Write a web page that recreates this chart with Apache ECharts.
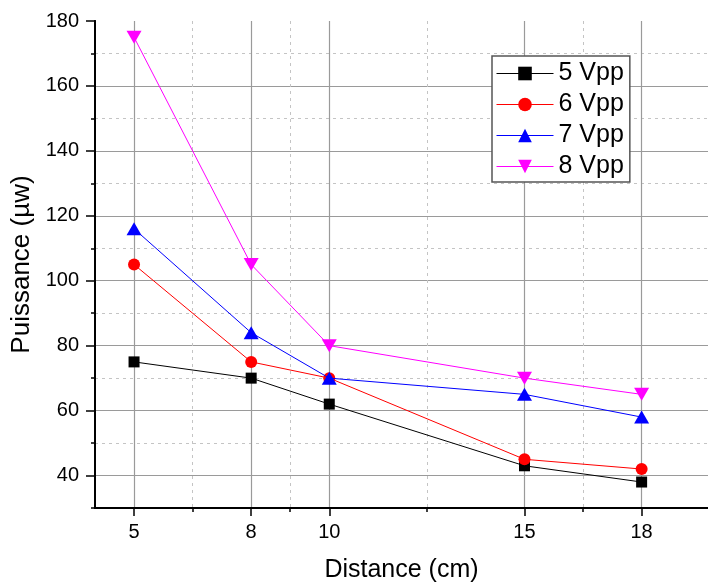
<!DOCTYPE html>
<html>
<head>
<meta charset="utf-8">
<script src="https://cdn.jsdelivr.net/npm/echarts@6/dist/echarts.min.js"></script>
<style>
html,body{margin:0;padding:0;background:#fff;}
#chart{width:708px;height:588px;}
</style>
</head>
<body>
<div id="chart"></div>
<script>
const distances = [5, 8, 10, 15, 18];
const seriesNames = ['5 Vpp', '6 Vpp', '7 Vpp', '8 Vpp'];
const vpp5 = [75, 70, 62, 43, 38];
const vpp6 = [105, 75, 70, 45, 42];
const vpp7 = [116, 84, 70, 65, 58];
const vpp8 = [175, 105, 80, 70, 65];
const xMajorTicks = [5, 8, 10, 15, 18];
const xMinorTicks = [6.5, 9, 12.5, 16.5];
const yMajorTicks = [40, 60, 80, 100, 120, 140, 160, 180];
const yMinorTicks = [30, 50, 70, 90, 110, 130, 150, 170];
const xTitle = 'Distance (cm)';
const yTitle = 'Puissance (µw)';

const FONT = '"Liberation Sans", Arial, sans-serif';
const seriesValues = [vpp5, vpp6, vpp7, vpp8];
const colors = ['#000000', '#ff0000', '#0000ff', '#ff00ff'];
const symbols = ['rect', 'circle', 'triangle', 'triangle'];
const symbolSizes = [11, 12, [15, 13], [15, 13]];
const rotations = [0, 0, 0, 180];

const chart = echarts.init(document.getElementById('chart'), null, {renderer: 'canvas'});

const X_MIN = 4, X_MAX = 19.7, Y_MIN = 30, Y_MAX = 180;

function baseAxisLine() {
  return {show: true, onZero: false, lineStyle: {color: '#000', width: 2}};
}

const option = {
  backgroundColor: '#fff',
  animation: false,
  textStyle: {fontFamily: FONT},
  grid: {left: 95, right: 0, top: 21, bottom: 79, containLabel: false},
  legend: {
    orient: 'vertical',
    left: 492,
    top: 56,
    data: seriesNames.map((n, i) => ({
      name: n,
      lineStyle: {color: colors[i], width: 1},
      itemStyle: {color: colors[i]}
    })),
    itemWidth: 57,
    itemHeight: 17,
    itemGap: 6,
    padding: [5, 6, 3, 4],
    borderColor: '#555',
    borderWidth: 1.5,
    backgroundColor: '#fff',
    textStyle: {fontFamily: FONT, fontSize: 25, color: '#000', lineHeight: 25}
  },
  xAxis: [
    {
      type: 'value', min: X_MIN, max: X_MAX,
      axisLine: baseAxisLine(),
      axisTick: {show: true, customValues: xMinorTicks, length: 4, lineStyle: {color: '#000', width: 1.5}},
      axisLabel: {show: false, customValues: xMinorTicks},
      splitLine: {show: true, showMinLine: true, showMaxLine: true, lineStyle: {color: '#c4c4c4', width: 1, type: [3, 4]}}
    },
    {
      type: 'value', min: X_MIN, max: X_MAX, position: 'bottom',
      name: xTitle, nameLocation: 'middle', nameGap: 50,
      nameTextStyle: {fontFamily: FONT, fontSize: 25, color: '#000'},
      axisLine: baseAxisLine(),
      axisTick: {show: true, customValues: xMajorTicks, length: 8, lineStyle: {color: '#000', width: 1.5}},
      axisLabel: {show: true, customValues: xMajorTicks, margin: 14, fontFamily: FONT, fontSize: 20, color: '#000'},
      splitLine: {show: true, showMinLine: true, showMaxLine: true, lineStyle: {color: '#9a9a9a', width: 1.2}}
    }
  ],
  yAxis: [
    {
      type: 'value', min: Y_MIN, max: Y_MAX, position: 'left',
      axisLine: baseAxisLine(),
      axisTick: {show: true, customValues: yMinorTicks, length: 4, lineStyle: {color: '#000', width: 1.5}},
      axisLabel: {show: false, customValues: yMinorTicks},
      splitLine: {show: true, showMinLine: false, showMaxLine: true, lineStyle: {color: '#c4c4c4', width: 1, type: [3, 4]}}
    },
    {
      type: 'value', min: Y_MIN, max: Y_MAX, position: 'left',
      name: yTitle, nameLocation: 'middle', nameGap: 58, nameRotate: 90,
      nameTextStyle: {fontFamily: FONT, fontSize: 26, color: '#000'},
      axisLine: baseAxisLine(),
      axisTick: {show: true, customValues: yMajorTicks, length: 9, lineStyle: {color: '#000', width: 1.5}},
      axisLabel: {show: true, customValues: yMajorTicks, margin: 16, fontFamily: FONT, fontSize: 20, color: '#000'},
      splitLine: {show: true, showMinLine: true, showMaxLine: false, lineStyle: {color: '#9a9a9a', width: 1.2}}
    }
  ],
  series: seriesNames.map((name, i) => ({
    name: name,
    type: 'line',
    xAxisIndex: 1,
    yAxisIndex: 1,
    data: distances.map((d, j) => [d, seriesValues[i][j]]),
    symbol: symbols[i],
    symbolSize: symbolSizes[i],
    symbolRotate: rotations[i],
    showAllSymbol: true,
    color: colors[i],
    itemStyle: {color: colors[i], opacity: 1},
    lineStyle: {color: colors[i], width: 1},
    z: 3 + i
  }))
};

chart.setOption(option);
</script>
</body>
</html>
